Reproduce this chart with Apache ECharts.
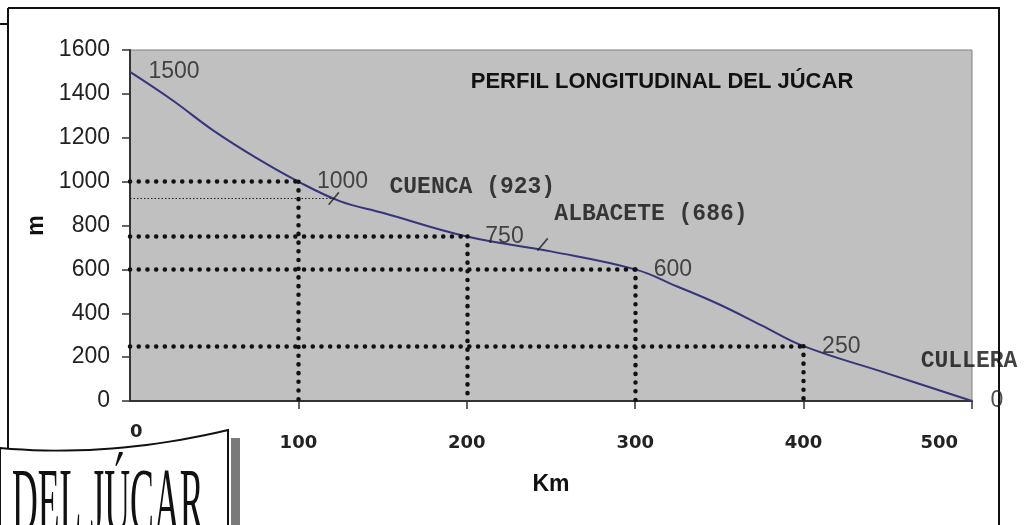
<!DOCTYPE html>
<html>
<head>
<meta charset="utf-8">
<script src="https://cdn.jsdelivr.net/npm/echarts@6/dist/echarts.min.js"></script>
<style>
  html, body { margin: 0; padding: 0; background: #fff; }
  #chart { width: 1028px; height: 525px; }
</style>
</head>
<body>
<div id="chart"></div>
<script>
// perfil del río: km desde el nacimiento / altitud (m)
var kmProfile  = [0, 25, 50, 75, 100, 125, 150, 200, 250, 300, 325, 350, 375, 400, 450, 500];
var altProfile = [1500, 1372, 1230, 1108, 1000, 910, 858, 750, 682, 600, 522, 440, 345, 250, 125, 0];

// puntos de referencia con líneas de puntos
var refKm  = [100, 200, 300, 400];
var refAlt = [1000, 750, 600, 250];

// cotas rotuladas sobre la curva
var labelKm  = [0, 100, 200, 300, 400, 500];
var labelAlt = [1500, 1000, 750, 600, 250, 0];

// ciudades
var townNames = ['CUENCA (923)', 'ALBACETE (686)', 'CULLERA'];
var townKm    = [121, 245, 500];
var townAlt   = [923, 686, 0];

var dotted = { type: [0.1, 8.6], width: 4.5, cap: 'round', color: '#111' };
var thinDotted = { type: [1.5, 2], width: 1, color: '#222' };

var markData = [];
refKm.forEach(function (k, i) {
    markData.push([{ coord: [0, refAlt[i]], lineStyle: dotted }, { coord: [k, refAlt[i]] }]);
    markData.push([{ coord: [k, refAlt[i]], lineStyle: dotted }, { coord: [k, 0] }]);
});
markData.push([{ coord: [0, townAlt[0]], lineStyle: thinDotted }, { coord: [townKm[0], townAlt[0]] }]);

// estilo de cada rótulo de ciudad
var townStyle = [
    { symbolSize: [1.6, 16], symbolRotate: -40, symbolOffset: [0, 0], label: { position: 'right', distance: 0, offset: [50, -11] } },
    { symbolSize: [1.6, 16], symbolRotate: -40, symbolOffset: [0, -6], label: { position: 'right', distance: 0, offset: [6, -30] } },
    { symbolSize: 0, label: { position: 'top', distance: 28, offset: [-3, 0] } }
];
var townData = townNames.map(function (n, i) {
    var st = townStyle[i];
    return {
        name: n,
        value: [townKm[i], townAlt[i]],
        symbolSize: st.symbolSize,
        symbolRotate: st.symbolRotate || 0,
        symbolOffset: st.symbolOffset || [0, 0],
        label: st.label
    };
});

// cartel "DEL JÚCAR" abajo a la izquierda (borde superior curvo)
var bannerPts = [];
for (var t = 0; t <= 1.0001; t += 0.05) {
    var bx = 2 * (1 - t) * t * 110 + t * t * 228;
    var by = (1 - t) * (1 - t) * 448 + 2 * (1 - t) * t * 458 + t * t * 430;
    bannerPts.push([bx, by]);
}
bannerPts.push([228, 527], [0, 527]);

var chart = echarts.init(document.getElementById('chart'));
var option = {
    animation: false,
    backgroundColor: '#fff',
    grid: {
        left: 130, right: 56, top: 50, bottom: 124,
        show: true,
        backgroundColor: '#c0c0c0',
        borderColor: '#808080',
        borderWidth: 1,
        outerBoundsMode: 'none'
    },
    title: {
        text: 'PERFIL LONGITUDINAL DEL JÚCAR',
        left: 657, top: 66, textAlign: 'center',
        textStyle: { fontFamily: 'Liberation Sans', fontWeight: 'bold', fontSize: 22, color: '#111' }
    },
    xAxis: [{
        type: 'value', min: 0, max: 500, interval: 100,
        name: 'Km', nameLocation: 'middle', nameGap: 72,
        nameTextStyle: { fontFamily: 'Liberation Sans', fontWeight: 'bold', fontSize: 23, color: '#111' },
        axisLine: { lineStyle: { color: '#333', width: 2 } },
        axisTick: { length: 8, lineStyle: { color: '#333', width: 1.5 } },
        axisLabel: {
            margin: 33, showMinLabel: false, alignMaxLabel: 'right',
            formatter: function (v) { return v === 500 ? '{r|' + v + '}' : String(v); },
            rich: { r: { padding: [0, 14, 0, 0], fontFamily: 'DejaVu Sans', fontWeight: 'bold', fontSize: 18, color: '#222' } },
            fontFamily: 'DejaVu Sans', fontWeight: 'bold', fontSize: 18, color: '#222'
        },
        splitLine: { show: false }
    }, {
        type: 'value', min: 0, max: 500, interval: 100, position: 'bottom', offset: 0,
        axisLine: { show: false }, axisTick: { show: false },
        axisLabel: {
            margin: 22, alignMinLabel: 'left',
            formatter: function (v) { return v === 0 ? '0' : ''; },
            fontFamily: 'DejaVu Sans', fontWeight: 'bold', fontSize: 18, color: '#222'
        },
        splitLine: { show: false }
    }],
    yAxis: {
        type: 'value', min: 0, max: 1600, interval: 200,
        name: 'm', nameLocation: 'middle', nameGap: 81, nameRotate: 90,
        nameTextStyle: { fontFamily: 'Liberation Sans', fontWeight: 'bold', fontSize: 23, color: '#111' },
        axisLine: { show: true, lineStyle: { color: '#333', width: 2 } },
        axisTick: { show: true, length: 8, lineStyle: { color: '#333', width: 1.5 } },
        axisLabel: {
            margin: 20, formatter: function (v) { return String(v); },
            fontFamily: 'Liberation Sans', fontSize: 23, color: '#222'
        },
        splitLine: { show: false }
    },
    series: [{
        type: 'line',
        data: kmProfile.map(function (k, i) { return [k, altProfile[i]]; }),
        smooth: 0.4,
        showSymbol: false,
        lineStyle: { color: '#35357a', width: 2 },
        markLine: { symbol: 'none', silent: true, label: { show: false }, data: markData },
        z: 3
    }, {
        type: 'scatter',
        data: labelKm.map(function (k, i) { return [k, labelAlt[i]]; }),
        symbolSize: 1,
        itemStyle: { color: 'rgba(0,0,0,0)' },
        label: {
            show: true, position: 'right', distance: 18,
            formatter: function (p) { return p.value[1]; },
            fontFamily: 'Liberation Sans', fontSize: 23, color: '#222'
        },
        silent: true, z: 4
    }, {
        type: 'scatter',
        data: townData,
        symbol: 'rect',
        itemStyle: { color: '#222' },
        label: {
            show: true,
            formatter: function (p) { return p.name; },
            fontFamily: 'Liberation Mono', fontWeight: 'bold', fontSize: 23, color: '#111'
        },
        silent: true, z: 4
    }],
    graphic: [
        { type: 'line', shape: { x1: 8, y1: 8, x2: 1000, y2: 8 }, style: { stroke: '#111', lineWidth: 2 } },
        { type: 'line', shape: { x1: 8, y1: 8, x2: 8, y2: 449 }, style: { stroke: '#111', lineWidth: 2 } },
        { type: 'line', shape: { x1: 0, y1: 24, x2: 8, y2: 24 }, style: { stroke: '#111', lineWidth: 2 } },
        { type: 'line', shape: { x1: 999, y1: 8, x2: 999, y2: 525 }, style: { stroke: '#111', lineWidth: 2 } },
        { type: 'rect', shape: { x: 231, y: 438, width: 9, height: 90 }, style: { fill: '#7a7a7a' } },
        { type: 'polygon', shape: { points: bannerPts }, style: { fill: '#fff', stroke: '#111', lineWidth: 2 } },
        { type: 'text', x: 12, y: 460, scaleX: 0.38, style: { text: 'DEL JÚCAR', fontSize: 94, fontFamily: 'Liberation Serif', fill: '#111', verticalAlign: 'top' } }
    ]
};
chart.setOption(option);
</script>
</body>
</html>
